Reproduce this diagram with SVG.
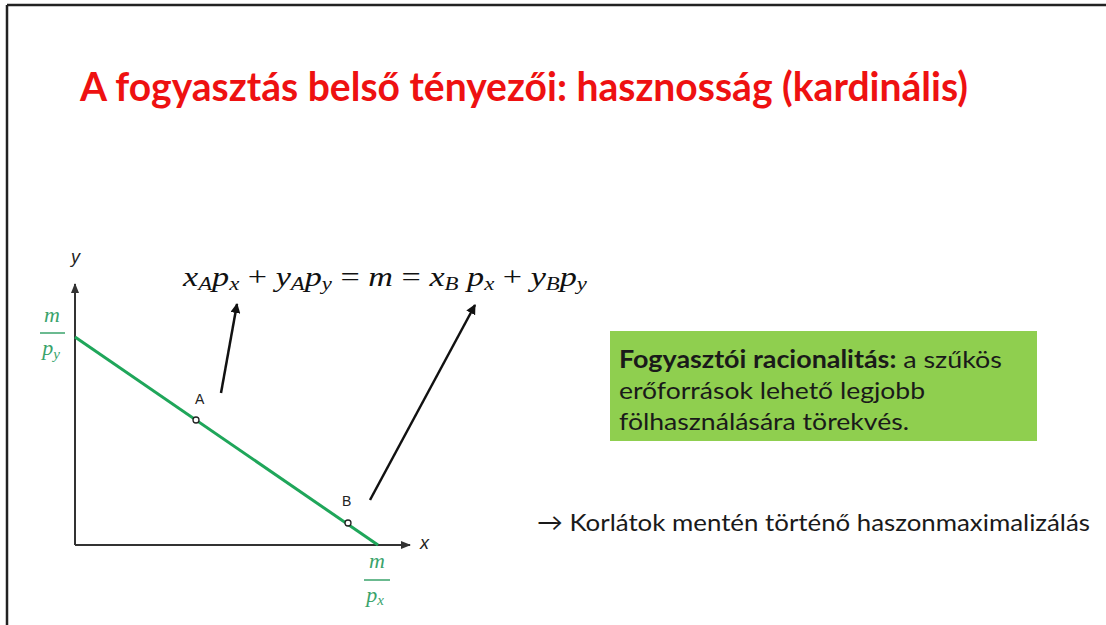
<svg xmlns="http://www.w3.org/2000/svg" width="1106" height="625" viewBox="0 0 1106 625">
<style>
.title{font-family:Lato,"Open Sans","Liberation Sans",sans-serif;font-weight:bold;font-size:40px;fill:#ee1111}
.body{font-family:Lato,"Open Sans","Liberation Sans",sans-serif;font-size:24px;fill:#1a1a1a}
.math{font-family:"Liberation Serif","DejaVu Serif",serif;font-style:italic;fill:#111}
.mathg{font-family:"Liberation Serif","DejaVu Serif",serif;font-style:italic;fill:#3aa36b}
.lbl{font-family:"Liberation Sans",Arial,sans-serif;font-size:14px;fill:#222}
.axlbl{font-family:"Liberation Sans",Arial,sans-serif;font-size:18px;font-style:italic;fill:#222}
.axis{stroke:#333;stroke-width:2;fill:none}
.arrow{stroke:#111;stroke-width:2.5;fill:none}
</style>
<defs>
<marker id="ah" viewBox="0 0 10 10" refX="9" refY="5" markerWidth="4" markerHeight="4" orient="auto">
<path d="M0,0 L10,5 L0,10 z" fill="#111"/>
</marker>
<marker id="axh" viewBox="0 0 10 10" refX="9" refY="5" markerWidth="5" markerHeight="5" orient="auto">
<path d="M0,1 L10,5 L0,9 z" fill="#333"/>
</marker>
</defs>
<rect width="1106" height="625" fill="#fff"/>
<!-- frame -->
<line x1="7" y1="5" x2="1106" y2="5" stroke="#222" stroke-width="2.5"/>
<line x1="7" y1="5" x2="7" y2="625" stroke="#222" stroke-width="2.5"/>

<g id="title">
<text class="title" x="80" y="101" textLength="888" lengthAdjust="spacingAndGlyphs">A fogyasztás belső tényezői: hasznosság (kardinális)</text>
</g>

<g id="axes">
<line class="axis" x1="75" y1="545" x2="75" y2="284" marker-end="url(#axh)"/>
<line class="axis" x1="75" y1="545" x2="410" y2="545" marker-end="url(#axh)"/>
<text class="axlbl" x="71" y="263">y</text>
<text class="axlbl" x="420" y="549">x</text>
</g>

<g id="budget-line">
<line x1="75" y1="337" x2="378" y2="545" stroke="#1fa65a" stroke-width="3"/>
</g>

<g id="label-m-py">
<text class="mathg" x="52" y="322" font-size="22" text-anchor="middle">m</text>
<line x1="40" y1="333" x2="65" y2="333" stroke="#3aa36b" stroke-width="1.5"/>
<text class="mathg" x="51" y="355" font-size="22" text-anchor="middle">p<tspan font-size="15" dy="4">y</tspan></text>
</g>

<g id="label-m-px">
<text class="mathg" x="377" y="568" font-size="22" text-anchor="middle">m</text>
<line x1="364" y1="580" x2="390" y2="580" stroke="#3aa36b" stroke-width="1.5"/>
<text class="mathg" x="375" y="602" font-size="22" text-anchor="middle">p<tspan font-size="15" dy="3">x</tspan></text>
</g>

<g id="point-A">
<circle cx="196" cy="420" r="3" fill="#fff" stroke="#222" stroke-width="1.3"/>
<text class="lbl" x="195" y="404">A</text>
</g>
<g id="point-B">
<circle cx="348" cy="523" r="3" fill="#fff" stroke="#222" stroke-width="1.3"/>
<text class="lbl" x="342" y="506">B</text>
</g>

<g id="equation">
<text class="math" x="183" y="286" font-size="27" textLength="404" lengthAdjust="spacingAndGlyphs">x<tspan font-size="18" dy="4">A</tspan><tspan dy="-4">p</tspan><tspan font-size="18" dy="4">x</tspan><tspan dy="-4" font-style="normal"> + </tspan>y<tspan font-size="18" dy="4">A</tspan><tspan dy="-4">p</tspan><tspan font-size="18" dy="4">y</tspan><tspan dy="-4" font-style="normal"> = </tspan>m<tspan font-style="normal"> = </tspan>x<tspan font-size="18" dy="4">B</tspan><tspan dy="-4"> p</tspan><tspan font-size="18" dy="4">x</tspan><tspan dy="-4" font-style="normal"> + </tspan>y<tspan font-size="18" dy="4">B</tspan><tspan dy="-4">p</tspan><tspan font-size="18" dy="4">y</tspan></text>
</g>

<g id="connectors">
<line class="arrow" x1="221" y1="393" x2="237" y2="304" marker-end="url(#ah)"/>
<line class="arrow" x1="370" y1="500" x2="475" y2="305" marker-end="url(#ah)"/>
</g>

<g id="rationality-box">
<rect x="610" y="331" width="427" height="110" fill="#8fcf4f"/>
<text class="body" x="619" y="368" textLength="383" lengthAdjust="spacingAndGlyphs"><tspan font-weight="bold">Fogyasztói racionalitás:</tspan> a szűkös</text>
<text class="body" x="619" y="399" textLength="306" lengthAdjust="spacingAndGlyphs">erőforrások lehető legjobb</text>
<text class="body" x="619" y="430" textLength="290" lengthAdjust="spacingAndGlyphs">fölhasználására törekvés.</text>
</g>

<g id="conclusion">
<text class="body" x="537" y="531" textLength="553" lengthAdjust="spacingAndGlyphs">→ Korlátok mentén történő haszonmaximalizálás</text>
</g>
</svg>
